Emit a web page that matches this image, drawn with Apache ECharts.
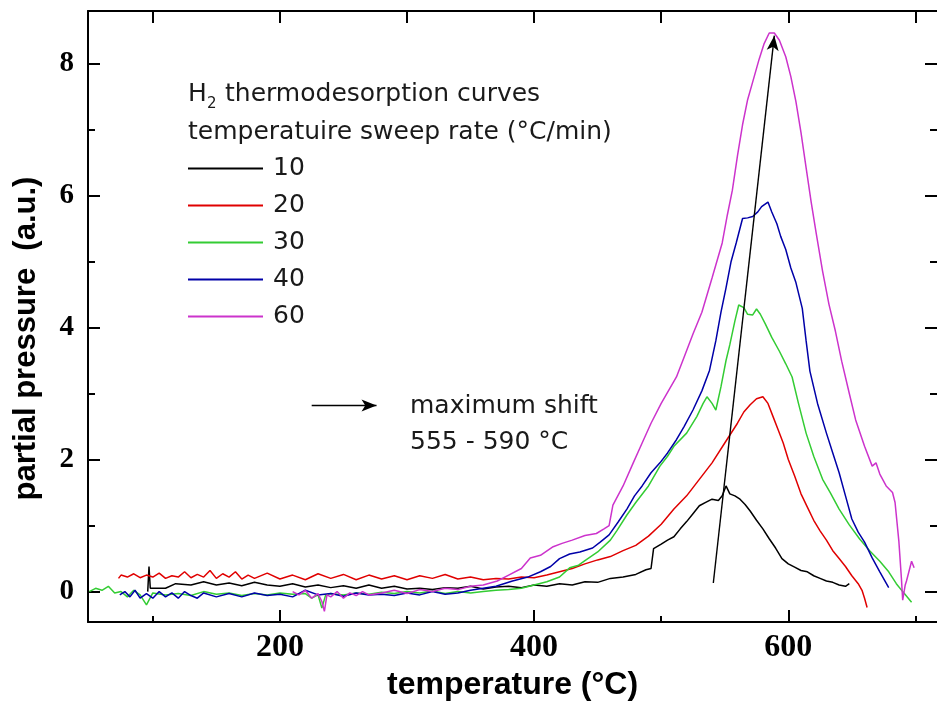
<!DOCTYPE html>
<html>
<head>
<meta charset="utf-8">
<script src="https://cdn.jsdelivr.net/npm/echarts@6/dist/echarts.min.js"></script>
<style>
  html, body { margin: 0; padding: 0; background: #fff; }
  #chart { width: 937px; height: 706px; }
</style>
</head>
<body>
<div id="chart"></div>
<script type="text/javascript">
// H2 thermodesorption curves
var rateNames = ['10', '20', '30', '40', '60'];
var rateColors = ['#000000', '#e00000', '#33cc33', '#0000a8', '#cc33cc'];

var t10 = [96, 97, 98, 110, 118, 130, 140, 150, 160, 170, 180, 190, 200, 210, 220, 230, 240, 250, 260, 270, 280, 290, 300, 310, 320, 330, 340, 350, 360, 370, 380, 390, 400, 410, 420, 430, 440, 450, 460, 470, 480, 488, 492, 494, 500, 505, 510, 515, 520, 525, 530, 535, 540, 545, 548, 551, 554, 558, 562, 566, 570, 575, 580, 585, 590, 595, 600, 605, 610, 615, 620, 625, 630, 635, 640, 645, 648];
var p10 = [0.0, 0.38, 0.05, 0.05, 0.12, 0.1, 0.15, 0.1, 0.13, 0.09, 0.14, 0.1, 0.08, 0.12, 0.07, 0.1, 0.06, 0.09, 0.05, 0.1, 0.05, 0.08, 0.04, 0.05, 0.03, 0.06, 0.05, 0.08, 0.04, 0.07, 0.08, 0.06, 0.1, 0.08, 0.12, 0.1, 0.15, 0.14, 0.2, 0.22, 0.26, 0.33, 0.35, 0.65, 0.72, 0.78, 0.83, 0.95, 1.06, 1.18, 1.3, 1.35, 1.4, 1.38, 1.45, 1.6, 1.48, 1.45, 1.4, 1.32, 1.22, 1.08, 0.95, 0.8, 0.66, 0.5, 0.42, 0.37, 0.32, 0.3, 0.24, 0.2, 0.16, 0.14, 0.1, 0.08, 0.12];

var t20 = [73, 75, 80, 85, 90, 95, 100, 105, 110, 115, 120, 125, 130, 135, 140, 145, 150, 155, 160, 165, 170, 175, 180, 190, 200, 210, 220, 230, 240, 250, 260, 270, 280, 290, 300, 310, 320, 330, 340, 350, 360, 370, 380, 390, 400, 410, 420, 430, 440, 450, 460, 470, 480, 490, 500, 510, 520, 530, 540, 550, 560, 565, 570, 575, 580, 584, 588, 592, 596, 600, 605, 610, 615, 620, 625, 630, 635, 640, 645, 650, 655, 658, 660, 662];
var p20 = [0.2, 0.25, 0.22, 0.27, 0.21, 0.25, 0.22, 0.28, 0.2, 0.24, 0.22, 0.3, 0.21, 0.26, 0.22, 0.32, 0.2, 0.27, 0.22, 0.3, 0.19, 0.25, 0.2, 0.28, 0.19, 0.25, 0.18, 0.27, 0.2, 0.26, 0.18, 0.25, 0.19, 0.24, 0.18, 0.24, 0.2, 0.26, 0.19, 0.22, 0.18, 0.2, 0.19, 0.22, 0.21, 0.25, 0.3, 0.35, 0.42, 0.48, 0.53, 0.62, 0.7, 0.84, 1.02, 1.25, 1.45, 1.7, 1.95, 2.25, 2.55, 2.72, 2.83, 2.92, 2.95, 2.85, 2.65, 2.45, 2.25, 2.0, 1.75, 1.48, 1.28, 1.08, 0.92, 0.78, 0.62, 0.5, 0.38, 0.24, 0.12, 0.02, -0.1, -0.24];

var t30 = [50, 55, 60, 65, 70, 75, 80, 85, 90, 95, 100, 110, 120, 130, 140, 150, 160, 170, 180, 190, 200, 210, 220, 225, 230, 233, 236, 240, 250, 260, 270, 280, 290, 300, 310, 320, 330, 340, 350, 360, 370, 380, 390, 400, 410, 420, 428, 435, 440, 450, 460, 465, 473, 480, 490, 499, 505, 510, 520, 528, 533, 536, 540, 543, 547, 551, 554, 558, 561, 565, 568, 572, 575, 578, 582, 587, 593, 598, 603, 608, 614, 620, 627, 633, 640, 648, 656, 664, 672, 679, 685, 690, 697];
var p30 = [0.0, 0.05, 0.02, 0.08, -0.02, 0.0, -0.08, 0.02, -0.05, -0.2, -0.02, -0.05, -0.03, -0.06, 0.0, -0.04, -0.02, -0.06, -0.03, -0.05, -0.02, -0.04, -0.03, -0.1, -0.05, -0.25, -0.05, -0.03, -0.05, -0.02, -0.04, -0.01, -0.03, 0.0, -0.02, 0.01, -0.03, 0.0, -0.02, 0.0, 0.02, 0.03, 0.05, 0.1, 0.15, 0.22, 0.36, 0.4, 0.47, 0.6, 0.78, 0.92, 1.16, 1.35, 1.6, 1.9, 2.05, 2.2, 2.4, 2.65, 2.85, 2.95, 2.85, 2.75, 3.1, 3.5, 3.74, 4.1, 4.34, 4.3, 4.2, 4.19, 4.28, 4.2, 4.05, 3.85, 3.64, 3.45, 3.25, 2.85, 2.4, 2.05, 1.7, 1.5, 1.25, 1.01, 0.8, 0.62, 0.46, 0.3, 0.12, 0.0, -0.16];

var t40 = [74, 78, 82, 86, 90, 95, 100, 105, 110, 115, 120, 125, 130, 135, 140, 150, 160, 170, 180, 190, 200, 210, 220, 230, 240, 250, 260, 270, 280, 290, 300, 310, 320, 330, 340, 350, 360, 370, 383, 395, 405, 413, 420, 428, 436, 446, 452, 459, 466, 473, 479, 485, 492, 499, 505, 512, 518, 525, 532, 538, 543, 547, 551, 555, 559, 564, 568, 572, 576, 579, 584, 587, 591, 594, 598, 602, 606, 611, 614, 617, 623, 630, 635, 640, 645, 650, 655, 660, 666, 672, 679];
var p40 = [-0.05, 0.0, -0.08, 0.02, -0.1, -0.03, -0.1, 0.0, -0.08, -0.02, -0.1, 0.0, -0.06, -0.1, -0.02, -0.08, -0.03, -0.08, -0.02, -0.06, -0.04, -0.08, 0.02, -0.05, -0.03, -0.07, -0.02, -0.05, -0.04, -0.06, -0.02, -0.05, 0.0, -0.04, -0.02, 0.02, 0.05, 0.08, 0.16, 0.22, 0.3, 0.38, 0.5, 0.57, 0.6, 0.66, 0.75, 0.86, 1.05, 1.25, 1.45, 1.6, 1.8, 1.95, 2.1, 2.3, 2.5, 2.75, 3.04, 3.35, 3.8, 4.23, 4.6, 5.0, 5.28, 5.65, 5.66, 5.68, 5.75, 5.83, 5.9, 5.75, 5.57, 5.38, 5.18, 4.9, 4.68, 4.29, 3.8, 3.34, 2.85, 2.4, 2.1, 1.8, 1.45, 1.1, 0.9, 0.75, 0.51, 0.3, 0.06];

var t60 = [210, 215, 220, 225, 230, 233, 235, 237, 240, 245, 250, 255, 260, 265, 270, 280, 290, 300, 310, 320, 330, 340, 350, 360, 371, 380, 390, 397, 405, 415, 422, 430, 440, 449, 455, 459, 462, 470, 478, 485, 492, 500, 506, 512, 518, 525, 532, 540, 548, 552, 556, 560, 564, 568, 572, 577, 581, 585, 589, 593, 598, 602, 606, 610, 614, 618, 622, 627, 632, 637, 642, 648, 653, 660, 666, 669, 672, 677, 682, 684, 687, 689, 690, 692, 693, 697, 699];
var p60 = [0.0, -0.05, 0.02, -0.1, -0.03, -0.15, -0.3, -0.05, -0.08, 0.0, -0.1, -0.02, -0.06, 0.0, -0.05, -0.02, 0.02, -0.03, 0.03, 0.0, 0.05, 0.03, 0.08, 0.1, 0.16, 0.25, 0.35, 0.51, 0.55, 0.68, 0.73, 0.78, 0.85, 0.88, 0.95, 1.0, 1.31, 1.6, 1.95, 2.25, 2.55, 2.85, 3.05, 3.25, 3.55, 3.9, 4.23, 4.75, 5.28, 5.7, 6.08, 6.6, 7.07, 7.45, 7.72, 8.06, 8.3, 8.46, 8.46, 8.35, 8.1, 7.8, 7.42, 6.95, 6.42, 5.9, 5.42, 4.85, 4.35, 3.95, 3.49, 3.0, 2.6, 2.2, 1.9, 1.95, 1.78, 1.6, 1.5, 1.35, 0.76, 0.2, -0.13, 0.1, 0.16, 0.46, 0.36];

// peak-shift arrow and the small legend arrow (data coords)
var shiftLine = [[541, 0.13], [589, 8.42]];
var keyArrow = [[225, 2.82], [276, 2.82]];

var xMin = 49, xMax = 717, yMin = -0.462, yMax = 8.793;
var xLabels = [200, 400, 600];
var xMinor = [100, 300, 500, 700];
var xAll = [100, 200, 300, 400, 500, 600, 700];
var yLabels = [0, 2, 4, 6, 8];
var yMinor = [1, 3, 5, 7];

var temps = [t10, t20, t30, t40, t60];
var pres = [p10, p20, p30, p40, p60];

var axisColor = '#000';
var textFont = 'DejaVu Sans';

function zip(a, b) {
    var out = [];
    for (var i = 0; i < a.length; i++) out.push([a[i], b[i]]);
    return out;
}

var series = [];
for (var i = 0; i < rateNames.length; i++) {
    series.push({
        name: rateNames[i],
        type: 'line',
        data: zip(temps[i], pres[i]),
        symbol: 'none',
        color: rateColors[i],
        lineStyle: { color: rateColors[i], width: 1.5 },
        z: 3
    });
}
// annotations as markLines
series.push({
    name: 'annot',
    type: 'line',
    data: [],
    symbol: 'none',
    silent: true,
    markLine: {
        silent: true,
        animation: false,
        label: { show: false },
        lineStyle: { color: '#000', type: 'solid', width: 1.4 },
        symbol: ['none', 'arrow'],
        symbolSize: [9, 15],
        data: [
            [{ coord: shiftLine[0] }, { coord: shiftLine[1] }],
            [{ coord: keyArrow[0] }, { coord: keyArrow[1] }]
        ]
    }
});

function frameAxis(dir, pos, ticks, len, line, extra) {
    var ax = {
        type: 'value',
        min: dir === 'x' ? xMin : yMin,
        max: dir === 'x' ? xMax : yMax,
        position: pos,
        axisLine: { show: line, onZero: false, lineStyle: { color: axisColor, width: 2 } },
        axisTick: { inside: true, length: len, customValues: ticks, lineStyle: { color: axisColor, width: 2 } },
        axisLabel: { show: false },
        splitLine: { show: false }
    };
    if (extra) for (var k in extra) ax[k] = extra[k];
    return ax;
}

var myChart = echarts.init(document.getElementById('chart'));

option = {
    animation: false,
    backgroundColor: '#fff',
    grid: { left: 88, top: 11, right: -1, bottom: 74, containLabel: false },
    legend: {
        data: rateNames,
        orient: 'vertical',
        left: 188,
        top: 156,
        padding: 0,
        icon: 'rect',
        itemWidth: 75,
        itemHeight: 2,
        itemGap: 12,
        textStyle: { fontFamily: textFont, fontSize: 25, color: '#1a1a1a', padding: [0, 0, 0, 5] }
    },
    xAxis: [
        frameAxis('x', 'bottom', xLabels, 12, true, {
            axisLabel: { customValues: xLabels, fontFamily: 'Liberation Serif', fontWeight: 'bold', fontSize: 32, color: '#000', margin: 10 },
            name: 'temperature (°C)',
            nameLocation: 'middle',
            nameGap: 44,
            nameTextStyle: { fontFamily: 'Liberation Sans', fontWeight: 'bold', fontSize: 32, color: '#000' }
        }),
        frameAxis('x', 'bottom', xMinor, 6, false),
        frameAxis('x', 'top', xAll, 12, true)
    ],
    yAxis: [
        frameAxis('y', 'left', yLabels, 12, true, {
            axisLabel: { customValues: yLabels, fontFamily: 'Liberation Serif', fontWeight: 'bold', fontSize: 29, color: '#000', margin: 14 },
            name: 'partial pressure  (a.u.)',
            nameLocation: 'middle',
            nameGap: 46,
            nameTextStyle: { fontFamily: 'Liberation Sans', fontWeight: 'bold', fontSize: 31, color: '#000', padding: [0, 44, 0, 0] }
        }),
        frameAxis('y', 'left', yMinor, 7, false),
        frameAxis('y', 'right', yLabels, 12, false),
        frameAxis('y', 'right', yMinor, 7, false)
    ],
    graphic: [
        { type: 'text', x: 188, y: 94, style: { text: 'H', font: '25px "DejaVu Sans"', fill: '#1a1a1a', verticalAlign: 'middle' } },
        { type: 'text', x: 207, y: 104, style: { text: '2', font: '15px "DejaVu Sans"', fill: '#1a1a1a', verticalAlign: 'middle' } },
        { type: 'text', x: 225, y: 94, style: { text: 'thermodesorption curves', font: '25px "DejaVu Sans"', fill: '#1a1a1a', verticalAlign: 'middle' } },
        { type: 'text', x: 188, y: 132, style: { text: 'temperatuire sweep rate (°C/min)', font: '25px "DejaVu Sans"', fill: '#1a1a1a', verticalAlign: 'middle' } },
        { type: 'text', x: 410, y: 406, style: { text: 'maximum shift', font: '25px "DejaVu Sans"', fill: '#1a1a1a', verticalAlign: 'middle' } },
        { type: 'text', x: 410, y: 442, style: { text: '555 - 590 °C', font: '25px "DejaVu Sans"', fill: '#1a1a1a', verticalAlign: 'middle' } }
    ],
    series: series
};

myChart.setOption(option);
</script>
</body>
</html>
